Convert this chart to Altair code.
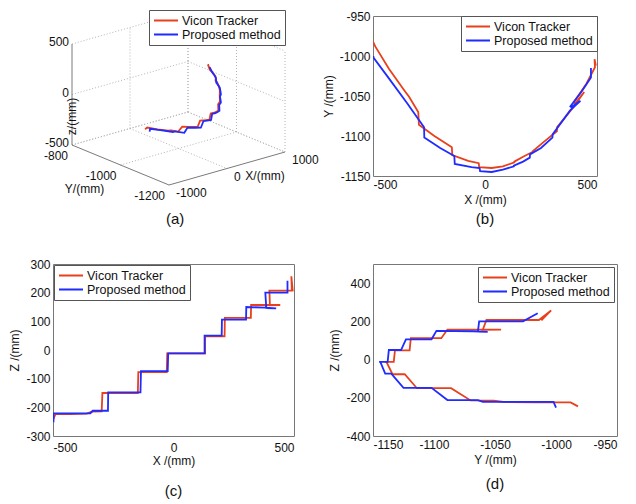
import altair as alt
import pandas as pd

FONT = "Liberation Sans"
SERIES = ["Vicon Tracker", "Proposed method"]
COLORS = ["#e8401c", "#1f2bff"]

# ---- trajectory data (mm) ----
red_x = [-500, -490, -429, -360, -339, -298, -295, -226, -148, -146, -75, -28, -26, 30, 80, 131, 131,
         170, 212, 213, 260, 321, 322, 392, 443, 400, 398, 452, 491, 489, 495]
red_y = [-982, -988, -1016, -1043, -1051, -1070, -1086, -1100, -1114, -1124, -1131, -1134, -1139, -1140,
         -1138, -1133, -1132, -1126, -1120, -1119, -1108, -1094, -1089, -1065, -1045, -1060, -1057, -1035,
         -1014, -1004, -1012]
red_z = [-245, -224, -224, -222, -215, -214, -150, -150, -150, -77, -77, -77, -12, -12, -12, -12, 48, 48,
         48, 112, 112, 112, 157, 157, 157, 156, 207, 207, 207, 257, 205]

blue_x = [-498, -498, -429, -345, -335, -272, -271, -200, -137, -135, -60, -24, -22, 30, 80, 129, 129,
          170, 200, 201, 250, 301, 302, 380, 426, 385, 381, 430, 473, 473]
blue_y = [-1000, -1002, -1028, -1060, -1064, -1089, -1102, -1115, -1125, -1135, -1139, -1140, -1144,
          -1145, -1142, -1138, -1137, -1132, -1127, -1123, -1115, -1102, -1098, -1068, -1056, -1064, -1063,
          -1045, -1027, -1015]
blue_z = [-252, -221, -221, -221, -212, -212, -148, -148, -148, -74, -74, -74, -12, -12, -12, -12, 50,
          50, 50, 106, 106, 106, 150, 148, 145, 146, 200, 200, 200, 242]

# 3D axes ticks
ticks3_x = [-1000, 0, 1000]
ticks3_y = [-800, -1000, -1200]
ticks3_z = [-500, 0, 500]

# 2D axes ticks
ticks_x = [-500, 0, 500]
ticks_yb = [-1150, -1100, -1050, -1000, -950]
ticks_zc = [-300, -200, -100, 0, 100, 200, 300]
ticks_yd = [-1150, -1100, -1050, -1000, -950]
ticks_zd = [-400, -200, 0, 200, 400]

captions = ["(a)", "(b)", "(c)", "(d)"]

rows = []
for s, xs, ys, zs in [(SERIES[0], red_x, red_y, red_z), (SERIES[1], blue_x, blue_y, blue_z)]:
    for i, (x, y, z) in enumerate(zip(xs, ys, zs)):
        rows.append({"series": s, "idx": i, "X": x, "Y": y, "Z": z})
df = pd.DataFrame(rows)

# ---- layout constants (flush grid) ----
LX, LY = 51, 14          # page position of the first column / row origin
W1, W2 = 241, 224        # column widths
H1, H2 = 160, 172        # row heights
COL2_X, ROW2_Y = 371, 262

# ---- oblique projection used for panel (a), in page pixels ----
def proj(X, Y, Z):
    u = (X + 1000) / 2000.0
    v = (-800 - Y) / 400.0
    w = (Z + 500) / 1000.0
    sx = 70 + 116 * u + 97 * v
    sy = 143 - 33 * u + 40 * v - 101 * w
    return sx, sy

df["sx"], df["sy"] = zip(*[proj(x, y, z) for x, y, z in zip(df.X, df.Y, df.Z)])

segs = []
def add_seg(name, p, q, kind):
    for k, pt in enumerate((p, q)):
        sx, sy = proj(*pt)
        segs.append({"seg": name, "k": k, "sx": sx, "sy": sy, "kind": kind})

zmin, zmax = ticks3_z[0], ticks3_z[-1]
xmin, xmax = ticks3_x[0], ticks3_x[-1]
ymax_, ymin_ = ticks3_y[0], ticks3_y[-1]
for xt in ticks3_x[1:]:
    add_seg(f"bw{xt}", (xt, ymax_, zmin), (xt, ymax_, zmax), "grid")
    add_seg(f"fl{xt}", (xt, ymax_, zmin), (xt, ymin_, zmin), "grid")
for zt in ticks3_z:
    add_seg(f"bh{zt}", (xmin, ymax_, zt), (xmax, ymax_, zt), "grid")
    add_seg(f"sh{zt}", (xmax, ymax_, zt), (xmax, ymin_, zt), "grid")
for yt in ticks3_y:
    add_seg(f"sv{yt}", (xmax, yt, zmin), (xmax, yt, zmax), "grid")
    if yt != ymin_:
        add_seg(f"fy{yt}", (xmin, yt, zmin), (xmax, yt, zmin), "grid")
add_seg("axz", (xmin, ymax_, zmin), (xmin, ymax_, zmax), "axis")
add_seg("axy", (xmin, ymax_, zmin), (xmin, ymin_, zmin), "axis")
add_seg("axx", (xmin, ymin_, zmin), (xmax, ymin_, zmin), "axis")
seg_df = pd.DataFrame(segs)

lab = []
for t in ticks3_z:
    sx, sy = proj(xmin, ymax_, t); lab.append({"g": "z", "sx": sx, "sy": sy, "t": str(t)})
for t in ticks3_y:
    sx, sy = proj(xmin, t, zmin); lab.append({"g": "y", "sx": sx, "sy": sy, "t": str(t)})
for t in ticks3_x:
    sx, sy = proj(t, ymin_, zmin); lab.append({"g": "x", "sx": sx, "sy": sy, "t": str(t)})
sx, sy = proj(xmin, ymax_, 0); lab.append({"g": "tz", "sx": sx, "sy": sy, "t": "z/(mm)"})
sx, sy = proj(xmin, -1000, zmin); lab.append({"g": "ty", "sx": sx, "sy": sy, "t": "Y/(mm)"})
sx, sy = proj(0, ymin_, zmin); lab.append({"g": "tx", "sx": sx, "sy": sy, "t": "X/(mm)"})
lab_df = pd.DataFrame(lab)

XS = alt.Scale(domain=[LX, LX + W1], nice=False, zero=False)
YS = alt.Scale(domain=[LY, LY + H1], nice=False, zero=False, reverse=True)
px = alt.X("sx:Q", scale=XS, axis=None)
py = alt.Y("sy:Q", scale=YS, axis=None)

def color_enc(legend):
    return alt.Color("series:N", scale=alt.Scale(domain=SERIES, range=COLORS), legend=legend)

grid_layer = alt.Chart(seg_df).transform_filter(alt.datum.kind == "grid").mark_line(
    color="#b4b4b4", strokeWidth=1, strokeDash=[1, 2]).encode(x=px, y=py, detail="seg:N", order="k:Q")
axis_layer = alt.Chart(seg_df).transform_filter(alt.datum.kind == "axis").mark_line(
    color="#7a7a7a", strokeWidth=1).encode(x=px, y=py, detail="seg:N", order="k:Q")

def txt(g, **kw):
    return alt.Chart(lab_df).transform_filter(alt.datum.g == g).mark_text(
        font=FONT, fontSize=12, color="#111", baseline="middle", **kw).encode(x=px, y=py, text="t:N")

leg_a = alt.Legend(orient="none", legendX=147 - LX, legendY=8 - LY, title=None)
a_lines = [alt.Chart(df).transform_filter(alt.datum.series == s).mark_line(strokeWidth=1.8).encode(
    x=px, y=py, order="idx:Q", color=color_enc(leg_a)) for s in SERIES]

panel_a = alt.layer(
    grid_layer, axis_layer,
    txt("z", align="right", dx=-3, dy=-2),
    txt("y", align="right", dx=-4, dy=11),
    txt("x", align="left", dx=7, dy=8),
    txt("tz", align="center", dx=-22, angle=270),
    txt("ty", align="center", dx=-36, dy=24),
    txt("tx", align="center", dx=38, dy=7),
    *a_lines,
).properties(width=W1, height=H1, view=alt.ViewBackground(stroke="transparent"),
             title=alt.TitleParams(captions[0], orient="bottom", anchor="start", frame="group",
                                   dx=164 - LX, offset=10))

LBL = "'' + datum.value"

def panel2d(xcol, ycol, xdom, ydom, xt, yt, xtitle, ytitle, w, h, legend, cap, cap_off,
            lpad=3, tpad=4):
    xe = alt.X(f"{xcol}:Q", scale=alt.Scale(domain=xdom, nice=False, zero=False),
               axis=alt.Axis(values=xt, title=xtitle, labelExpr=LBL, labelPadding=lpad, titlePadding=tpad))
    ye = alt.Y(f"{ycol}:Q", scale=alt.Scale(domain=ydom, nice=False, zero=False),
               axis=alt.Axis(values=yt, title=ytitle, labelExpr=LBL))
    layers = [alt.Chart(df).transform_filter(alt.datum.series == s).mark_line(
        strokeWidth=1.8, clip=True).encode(x=xe, y=ye, order="idx:Q", color=color_enc(legend))
        for s in SERIES]
    return alt.layer(*layers).properties(
        width=w, height=h,
        title=alt.TitleParams(cap, orient="bottom", frame="group", offset=cap_off))

panel_b = panel2d("X", "Y", [-500, 500], [-1150, -950], ticks_x, ticks_yb, "X /(mm)", "Y /(mm)",
                  W2, H1, alt.Legend(orient="top-right", offset=0, title=None), captions[1], 7)
panel_c = panel2d("X", "Z", [-500, 500], [-300, 300], ticks_x, ticks_zc, "X /(mm)", "Z /(mm)",
                  W1, H2, alt.Legend(orient="top-left", offset=1, title=None), captions[2], 18,
                  lpad=6, tpad=2)
panel_d = panel2d("Y", "Z", [-1150, -950], [-400, 500], ticks_yd, ticks_zd, "Y /(mm)", "Z /(mm)",
                  244, H2, alt.Legend(orient="top-right", offset=3, title=None), captions[3], 12)

chart = alt.concat(
    panel_a, panel_b, panel_c, panel_d, columns=2, bounds="flush", align="each",
    spacing={"row": ROW2_Y - LY - H1, "column": COL2_X - LX - W1},
).resolve_scale(color="independent").resolve_legend(color="independent").properties(
    padding=0).configure_view(
    stroke="#777777", strokeWidth=1).configure_axis(
    labelFont=FONT, titleFont=FONT, labelFontSize=12, titleFontSize=12, titleFontWeight="normal",
    labelColor="#111", titleColor="#111", domain=False, ticks=False, grid=False,
    labelPadding=3, titlePadding=4).configure_legend(
    labelFont=FONT, labelFontSize=12.5, labelColor="#111", strokeColor="#555", fillColor="white",
    padding=4, symbolType="stroke", symbolSize=576, symbolStrokeWidth=2, labelOffset=3, rowPadding=1,
    clipHeight=13, labelLimit=300, cornerRadius=0).configure_title(
    font=FONT, fontSize=15, fontWeight="normal", color="#111")

chart.save("out.html", embed_options={"renderer": "svg", "actions": False})
